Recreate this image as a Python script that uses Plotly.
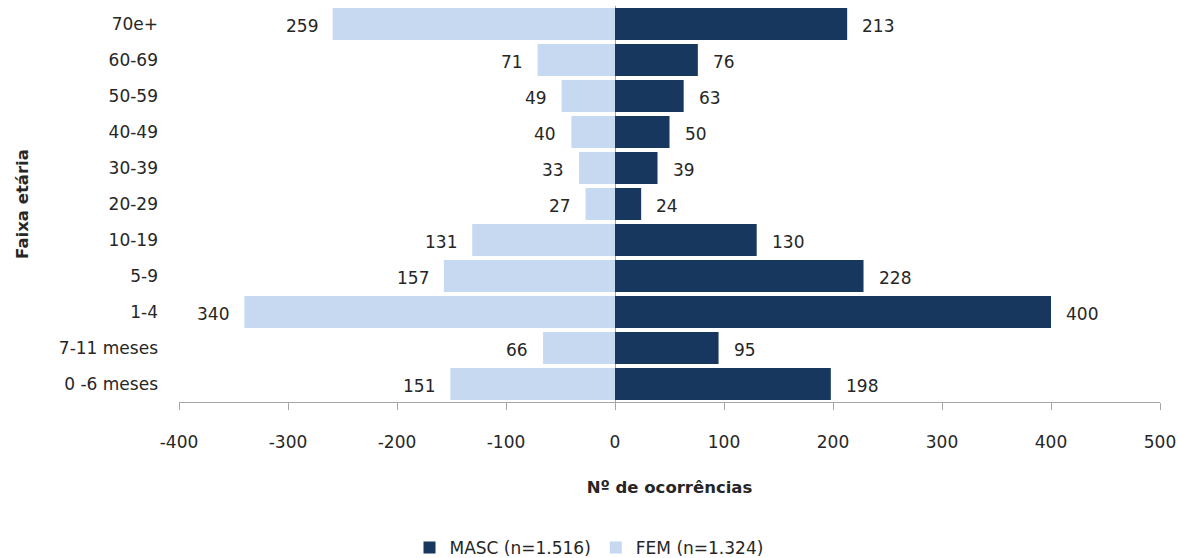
import plotly.graph_objects as go

# Age groups, bottom to top
faixas = ["0 -6 meses", "7-11 meses", "1-4", "5-9", "10-19", "20-29",
          "30-39", "40-49", "50-59", "60-69", "70e+"]
masc = [198, 95, 400, 228, 130, 24, 39, 50, 63, 76, 213]
fem = [151, 66, 340, 157, 131, 27, 33, 40, 49, 71, 259]
x_ticks = [-400, -300, -200, -100, 0, 100, 200, 300, 400, 500]

COR_MASC = "#17375E"
COR_FEM = "#C6D9F1"
FONTE = "'DejaVu Sans', sans-serif"
TEXTO = "#262626"
TAM = 17

fig = go.Figure()
fig.add_trace(go.Bar(
    y=faixas, x=masc, orientation="h", name="MASC (n=1.516)",
    marker=dict(color=COR_MASC, line=dict(width=0)), hoverinfo="x+y",
))
fig.add_trace(go.Bar(
    y=faixas, x=[-v for v in fem], orientation="h", name="FEM (n=1.324)",
    marker=dict(color=COR_FEM, line=dict(width=0)), hoverinfo="x+y",
))

# Value labels just past each bar end
anots = []
for cat, v in zip(faixas, masc):
    anots.append(dict(x=v, y=cat, text=str(v), xanchor="left", xshift=13,
                      yshift=-2, showarrow=False,
                      font=dict(family=FONTE, size=TAM, color=TEXTO)))
for cat, v in zip(faixas, fem):
    anots.append(dict(x=-v, y=cat, text=str(v), xanchor="right", xshift=-13,
                      yshift=-2, showarrow=False,
                      font=dict(family=FONTE, size=TAM, color=TEXTO)))

fig.update_layout(
    width=1178, height=558,
    margin=dict(l=179, r=18, t=6, b=156),
    paper_bgcolor="white", plot_bgcolor="white",
    barmode="relative", bargap=0.11,
    font=dict(family=FONTE, size=TAM, color=TEXTO),
    annotations=anots,
    showlegend=True,
    legend=dict(orientation="h", xref="container", yref="container",
                x=0.5, xanchor="center", y=0.018, yanchor="middle",
                font=dict(family=FONTE, size=TAM, color=TEXTO),
                traceorder="normal", itemwidth=30),
)
fig.update_xaxes(
    range=[-400, 500], tickvals=x_ticks, ticktext=[str(t) for t in x_ticks],
    showgrid=False, showline=True, linecolor="#A6A6A6", linewidth=1,
    ticks="outside", ticklen=7, tickcolor="#A6A6A6", ticklabelstandoff=18,
    zeroline=True, zerolinecolor="#A6A6A6", zerolinewidth=1,
    tickfont=dict(family=FONTE, size=TAM, color=TEXTO),
    title=dict(text="<b>Nº de ocorrências</b>", standoff=30,
               font=dict(family=FONTE, size=16.5, color=TEXTO)),
    automargin=False, fixedrange=True,
)
fig.update_yaxes(
    categoryorder="array", categoryarray=faixas,
    showgrid=False, showline=False, ticks="", ticklabelstandoff=20,
    tickfont=dict(family=FONTE, size=TAM, color=TEXTO),
    title=dict(text="<b>Faixa etária</b>", standoff=26,
               font=dict(family=FONTE, size=16.5, color=TEXTO)),
    automargin=False, fixedrange=True,
)

fig.write_html("out.html")
